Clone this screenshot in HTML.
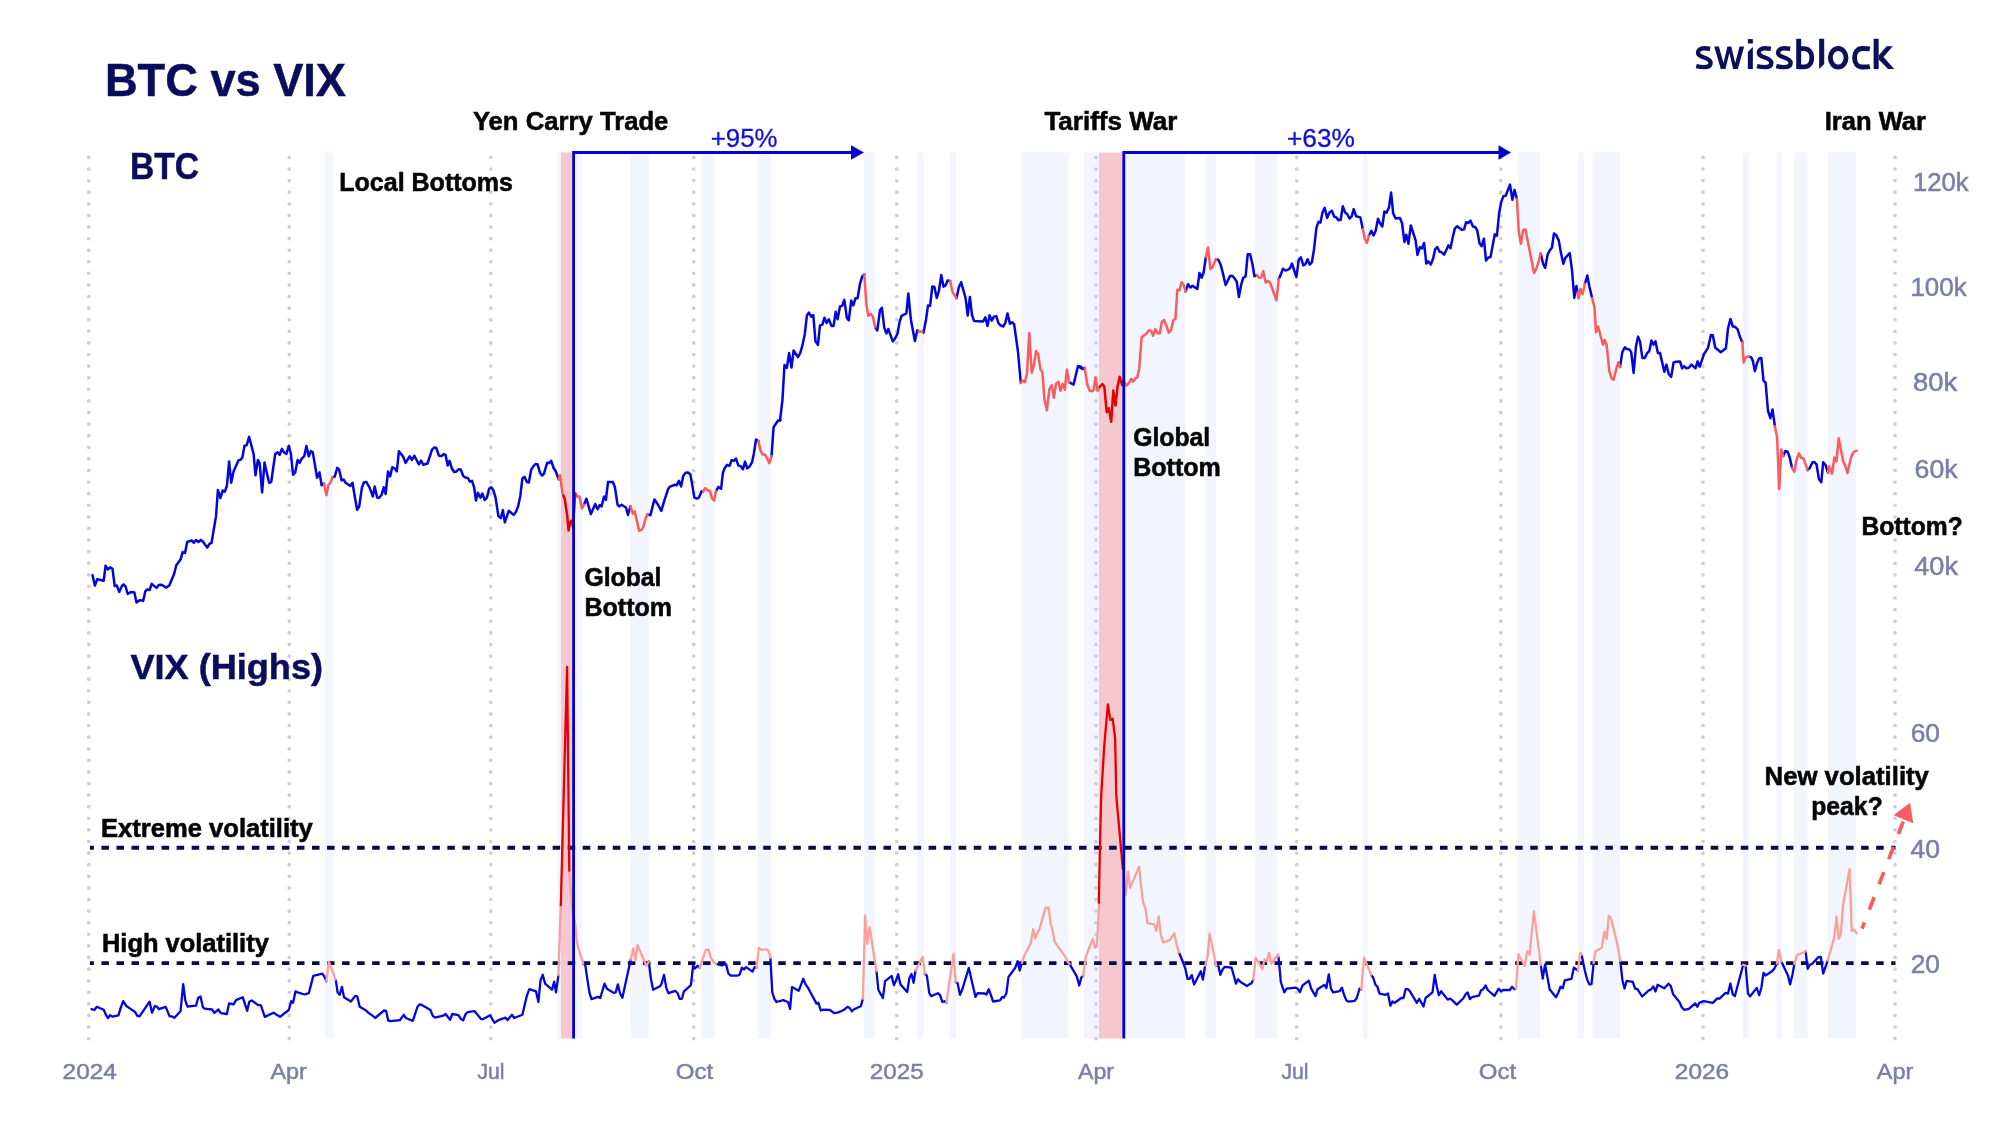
<!DOCTYPE html>
<html><head><meta charset="utf-8"><title>BTC vs VIX</title>
<style>
html,body{margin:0;padding:0;background:#fff;}
body{width:2000px;height:1125px;overflow:hidden;font-family:"Liberation Sans",sans-serif;}
svg{display:block;will-change:transform;}
text{font-family:"Liberation Sans",sans-serif;}
.ax{fill:#7a7fa6;font-size:25.5px;stroke:#7a7fa6;stroke-width:0.5px;}
.xa{fill:#7a7fa6;font-size:22.4px;stroke:#7a7fa6;stroke-width:0.5px;}
.lbl{fill:#050505;font-weight:bold;font-size:25px;stroke:#050505;stroke-width:0.55px;}
.navy{fill:#0a0d5c;font-weight:bold;stroke:#0a0d5c;stroke-width:0.5px;}
.pct{fill:#1010da;font-size:26.2px;stroke:#1010da;stroke-width:0.3px;}
</style></head><body>
<svg width="2000" height="1125" viewBox="0 0 2000 1125">
<rect width="2000" height="1125" fill="#ffffff"/>
<g fill="#f2f5fe">
<rect x="325" y="152.5" width="8.5" height="886.0"/>
<rect x="557.5" y="152.5" width="25.0" height="886.0"/>
<rect x="630.4" y="152.5" width="18.4" height="886.0"/>
<rect x="701.5" y="152.5" width="13.3" height="886.0"/>
<rect x="757.8" y="152.5" width="13.2" height="886.0"/>
<rect x="864" y="152.5" width="10.8" height="886.0"/>
<rect x="917.5" y="152.5" width="6.1" height="886.0"/>
<rect x="950.2" y="152.5" width="5.8" height="886.0"/>
<rect x="1021.5" y="152.5" width="47.3" height="886.0"/>
<rect x="1084" y="152.5" width="15.0" height="886.0"/>
<rect x="1123" y="152.5" width="62.0" height="886.0"/>
<rect x="1205.3" y="152.5" width="10.7" height="886.0"/>
<rect x="1255" y="152.5" width="22.3" height="886.0"/>
<rect x="1362.8" y="152.5" width="4.7" height="886.0"/>
<rect x="1517.8" y="152.5" width="22.0" height="886.0"/>
<rect x="1578" y="152.5" width="6.0" height="886.0"/>
<rect x="1592.6" y="152.5" width="27.4" height="886.0"/>
<rect x="1742.8" y="152.5" width="6.0" height="886.0"/>
<rect x="1776.6" y="152.5" width="5.6" height="886.0"/>
<rect x="1794" y="152.5" width="13.5" height="886.0"/>
<rect x="1827.8" y="152.5" width="28.2" height="886.0"/>
</g>
<g fill="#f5c7ce">
<rect x="561" y="152.5" width="12.0" height="886.0"/>
<rect x="1098.9" y="152.5" width="24.1" height="886.0"/>
</g>
<g stroke="#cdcdda" stroke-width="3.7" stroke-linecap="round" stroke-dasharray="0 11.595" fill="none">
<path d="M88.75 157.4V1041"/>
<path d="M289.25 157.4V1041"/>
<path d="M490.75 157.4V1041"/>
<path d="M693.75 157.4V1041"/>
<path d="M896.75 157.4V1041"/>
<path d="M1096 157.4V1041"/>
<path d="M1296.75 157.4V1041"/>
<path d="M1500.75 157.4V1041"/>
<path d="M1703 157.4V1041"/>
<path d="M1895 157.4V1041"/>
</g>
<g stroke="#0a0a46" stroke-width="3.9" stroke-dasharray="7.52 7.52" stroke-dashoffset="3.5" fill="none">
<path d="M89.9 847.8H1895.5"/><path d="M89.9 963.1H1895.5"/>
</g>
<g id="vix"><path d="M91.5,1009.2 94.4,1010.0 96.8,1006.8 103.7,1009.7 105.9,1014.8 108.0,1018.0 110.1,1015.1 112.5,1016.7 118.4,1015.3 120.8,1007.6 123.2,1001.2 126.4,1006.0 135.2,1012.1 137.3,1015.9 139.5,1016.4 149.6,1001.7 152.0,1012.7 154.9,1006.0 156.8,1006.5 158.9,1009.2 165.6,1006.8 169.6,1016.4 172.0,1016.4 174.4,1017.7 180.5,1011.3 183.2,984.1 185.3,1000.4 187.5,1006.5 196.0,1005.7 198.1,998.0 200.5,996.4 202.9,1007.3 204.8,1008.7 212.0,1009.5 214.4,1012.9 218.4,1009.5 220.8,1013.2 226.9,1014.0 229.1,1003.3 233.6,1004.4 236.0,1000.1 242.7,997.2 247.2,1010.8 249.3,1001.7 251.7,1000.4 258.4,1005.2 260.8,1005.2 264.8,1016.9 273.6,1012.7 280.0,1016.9 288.8,1010.0 291.2,1001.2 293.1,1002.8 295.5,991.3 297.6,992.4 304.5,994.5 308.8,993.2 313.3,975.9 322.4,973.7 324.5,976.9 326.4,981.2M335.7,979.6 337.6,992.4 339.7,994.8 341.9,986.8 344.0,997.2 350.9,1001.5 355.2,995.9 357.3,996.4 359.7,1006.8 366.1,1010.5 368.5,1012.9 372.8,1015.9 375.2,1018.0 384.0,1010.5 386.1,1010.8 388.0,1019.6M388.0,1019.6 388.0,1020.4 390.4,1021.2 400.0,1020.1 403.7,1014.8 405.9,1018.0 412.8,1020.9 417.6,1006.5 419.7,1004.4 421.9,1004.9 430.4,1010.0 432.8,1015.9 435.2,1017.7 444.0,1015.3 445.6,1014.0 450.1,1019.9 452.3,1014.0 458.4,1015.1 460.8,1018.8 463.2,1020.4 465.6,1014.0 467.7,1012.1 474.4,1011.1 481.1,1019.1 483.2,1019.1 490.1,1015.3 494.4,1022.8 498.4,1020.1 505.6,1017.7 507.5,1020.1 512.0,1014.8 514.1,1018.0 522.4,1014.8 526.9,995.6 529.3,989.2 536.0,991.3 538.4,1002.0 540.5,980.4 542.7,974.8 545.1,983.6 552.0,989.7 554.1,981.7 556.0,992.4 558.4,975.3M583.2,963.6 585.3,965.2 587.5,980.4 589.6,993.2 591.5,999.1 597.9,996.9 600.3,998.0 604.5,983.6 606.9,988.7 613.6,992.9 615.7,992.4 617.9,984.4 620.0,993.2 622.4,997.7 630.7,959.6M648.8,961.5 650.9,978.8 653.1,989.7 660.0,986.3 661.6,983.6 664.0,974.8 666.4,988.4 668.5,993.2 675.2,990.8 677.6,993.2 679.7,998.8 681.9,998.8M681.9,998.8 681.9,998.5 684.0,991.3 690.9,985.2 693.1,965.7 694.9,968.4 697.6,965.7 699.5,967.9M716.0,963.9 721.9,965.5 724.0,964.4 726.1,964.4 728.3,973.2 730.4,975.6 737.6,975.6 739.5,974.8 741.9,967.6 744.0,969.5 746.1,967.1 752.5,971.6 754.7,967.1 756.5,967.6M770.4,957.7 772.3,992.4 774.4,998.8 776.5,1002.0 783.2,1000.1 788.0,1002.0 790.1,1008.9 792.0,987.1 798.7,990.8 803.2,978.8 805.6,984.4 807.7,987.3 816.5,1003.6 818.4,1002.8 820.8,1010.5 823.2,1009.7 829.9,1010.0 834.1,1013.2 838.4,1012.4 843.2,1010.3 847.5,1006.8 849.6,1007.9 852.0,1011.3 854.1,1009.2 860.8,1006.3 862.9,998.8M876.5,971.1 878.4,990.0 882.9,998.0 885.1,981.2 891.7,975.9 893.9,985.2 896.0,980.4 898.1,974.3 900.5,984.4 907.2,992.1 909.3,978.3 911.5,974.0 913.6,982.8 915.5,970.5M924.8,973.7 926.9,975.9 929.3,993.2 931.2,996.1 937.9,993.2 940.0,995.1 942.4,1002.0 944.5,1001.2 946.4,1002.8M955.7,982.0 957.6,983.3 960.0,994.8 962.1,990.0 968.8,967.9 975.5,996.9 977.6,993.2 984.5,993.5M984.5,993.5 986.4,994.5 988.8,989.2 993.1,1001.5 1000.0,1000.4 1002.1,997.2 1004.0,997.5 1006.4,993.2 1008.5,976.9 1010.7,974.0 1015.2,967.9 1017.6,961.2 1019.7,970.5 1021.9,962.8M1069.6,964.1 1076.8,976.4 1079.2,985.5 1081.3,977.5 1083.2,975.6M1178.9,952.4 1181.1,957.7 1183.2,962.8 1185.3,968.4 1187.5,978.8 1189.6,978.8 1191.7,975.1 1194.1,984.4 1200.8,971.3 1202.9,979.6 1205.1,965.7M1216.3,965.7 1218.1,964.4 1220.3,974.8 1222.7,969.2 1224.8,966.8 1231.5,967.6 1233.6,974.8 1236.0,983.6 1238.1,979.3 1240.3,981.7 1246.9,986.0 1249.3,984.4 1251.5,983.3 1253.3,979.6M1278.4,956.4 1280.0,972.4 1280.8,982.0 1284.3,992.4 1286.7,988.7 1295.5,987.6 1297.6,988.7 1300.0,992.1 1302.4,985.7 1308.8,980.7 1311.2,988.7 1315.5,996.1 1317.6,989.2 1324.3,984.9 1326.4,988.1 1328.8,974.3 1330.9,988.4 1333.1,992.4 1339.7,991.1 1341.9,987.6 1344.0,994.8 1346.4,1000.4 1348.8,1001.7 1354.7,1000.9 1356.8,998.0 1359.5,988.7 1361.3,989.7M1371.2,974.8 1373.1,977.5 1375.5,984.9 1377.3,986.3 1379.5,993.7 1385.6,994.8 1388.0,993.5 1390.4,1005.7 1392.5,1001.5 1394.7,1002.8 1401.3,998.0 1403.5,998.0 1405.6,989.2 1408.0,989.2 1410.1,991.6 1416.8,1002.8 1419.2,998.8 1423.5,1006.5 1425.6,998.0 1432.5,992.4 1434.7,974.8 1436.8,986.8 1438.9,995.1 1441.1,991.3 1447.7,999.6 1450.1,998.5 1452.3,1000.4 1456.8,1004.7 1463.2,998.5 1465.6,994.3 1467.7,992.4 1469.9,999.1 1472.0,997.2 1478.9,995.6 1481.1,990.3 1483.2,989.2 1485.6,985.5 1487.7,990.0 1494.4,995.9 1496.5,992.4 1498.7,988.7 1501.1,991.3 1503.2,990.0 1509.9,990.0 1512.0,986.8 1514.4,989.2 1516.0,989.2M1540.8,965.2 1542.7,978.5 1545.1,964.4 1549.6,989.2 1556.0,997.2 1558.4,992.4 1560.5,986.8 1562.7,988.4 1564.8,980.4 1571.5,978.8 1573.9,967.6 1577.9,970.5M1581.6,954.8 1584.8,970.5 1587.2,979.6 1589.3,984.4 1591.5,984.1 1593.6,963.3M1620.3,960.8 1622.4,980.0 1624.5,988.5 1626.7,980.8 1632.8,981.9 1635.2,988.8 1637.3,988.8 1642.1,996.5 1648.8,990.4 1650.9,989.6 1653.3,986.4 1655.5,991.5 1657.6,984.8 1664.3,988.3 1668.5,983.7 1670.7,985.9 1673.1,994.1 1677.6,999.7 1679.5,1002.1 1681.9,1007.5 1684.3,1009.9 1688.8,1008.8 1695.2,1003.5 1697.3,1006.7 1699.2,1002.9 1703.7,1001.1 1712.8,1002.9 1717.3,998.4 1719.5,998.7 1725.6,992.8 1728.0,993.6 1730.4,983.5 1732.8,994.4 1734.9,996.0 1743.2,964.8M1745.6,965.6 1748.0,993.6 1750.1,996.3 1756.8,988.0 1759.2,995.2 1761.3,988.0 1763.5,972.8 1765.6,975.5 1772.0,971.2 1774.4,968.5 1776.8,963.7M1781.3,961.6 1788.0,975.5 1790.1,984.5 1792.5,974.4 1794.4,964.0M1805.6,951.5 1807.7,968.8 1809.9,964.8 1812.0,964.0 1818.4,957.1 1820.8,956.8 1823.2,973.6 1827.7,960.5" stroke="#0404dc" stroke-width="2.3" fill="none" stroke-linejoin="round" stroke-linecap="round"/>
<path d="M326.4,981.2 328.8,961.7 331.2,967.6 335.7,979.6M558.4,975.3 560.8,905.2M569.3,870.8 572.0,907.0 575.5,926.0 576.5,939.6 578.4,948.4 583.2,963.6M630.7,959.6 633.3,948.4 635.5,960.4 637.6,945.2 646.4,966.0 648.8,961.5M699.5,967.9 705.9,950.0 708.5,949.7 710.9,957.7 713.3,962.0 716.0,963.9M756.5,967.6 758.9,947.9 761.3,949.7 767.7,949.7 769.6,954.0 770.4,957.7M862.9,998.8 865.1,915.3 867.2,943.9 869.6,927.3 876.5,971.1M915.5,970.5 918.1,965.7 922.7,956.9 924.8,973.7M946.4,1002.8 953.6,953.7 955.7,982.0M1021.9,962.8 1024.0,956.4 1030.9,942.8 1033.1,929.2 1035.2,938.5 1037.6,932.7 1039.7,928.4 1045.6,907.6 1048.5,907.3 1050.9,925.2 1052.3,928.9 1054.7,941.7 1056.8,944.9 1065.6,957.2 1067.7,962.0 1069.6,964.1M1083.2,975.6 1085.6,958.0 1088.0,950.8 1092.8,939.1 1094.9,947.6 1096.8,946.5 1099.2,902.8M1122.8,868.8 1125.6,894.8 1127.8,872.0M1127.8,872.0 1128.0,871.6 1130.1,887.9 1139.2,866.5 1140.8,883.6 1143.2,902.8 1145.3,907.6 1147.5,923.1 1154.1,924.4 1156.3,930.8 1158.7,916.4 1160.8,934.8 1163.2,942.3 1169.9,940.1 1172.0,936.9 1174.4,933.5 1176.5,943.9 1178.9,952.4M1205.1,965.7 1207.5,957.2 1209.6,933.7 1216.3,965.7M1253.3,979.6 1255.7,957.7 1262.4,969.2 1264.5,959.3 1266.9,961.5 1269.1,952.7 1271.2,963.6 1277.9,954.3 1278.4,956.4M1361.3,989.7 1364.0,957.7 1371.2,974.8M1516.0,989.2 1518.4,954.3 1524.8,966.0 1527.2,951.3 1529.6,954.5 1533.9,911.3 1540.8,965.2M1577.9,970.5 1580.3,952.9 1581.6,954.8M1593.6,963.3 1593.6,963.2 1595.5,951.2 1601.9,947.7 1604.3,932.0 1606.7,938.9 1608.8,915.7 1611.2,918.9 1617.6,945.6 1620.3,960.8M1743.2,964.8 1745.6,965.6M1776.8,963.7 1778.9,949.9 1781.3,961.6M1794.4,964.0 1796.8,955.2 1805.6,951.5M1827.7,960.5 1834.4,937.1 1836.5,916.5 1838.7,938.7 1840.8,933.9 1843.2,904.0 1849.6,869.1 1851.7,930.9 1853.9,929.6 1856.5,933.1" stroke="#f9a09a" stroke-width="2.3" fill="none" stroke-linejoin="round" stroke-linecap="round"/>
<path d="M560.8,905.2 567.1,666.8 569.3,870.8M1099.2,902.8 1098.8,902.4 1100.0,843.6 1101.2,795.6 1104.3,745.2 1107.9,704.4 1110.3,720.0 1112.7,718.8 1115.1,738.0 1116.3,795.6 1118.0,814.8 1122.8,868.8" stroke="#e60000" stroke-width="2.3" fill="none" stroke-linejoin="round" stroke-linecap="round"/></g>
<g id="btc"><path d="M92.5,575.1 94.9,585.5 97.3,579.1 103.7,580.7 105.6,565.7 108.0,569.5 110.1,567.3 112.5,568.9 114.7,586.0 116.8,585.5 119.2,591.9 121.9,586.0 123.5,584.4 125.6,586.5 127.7,594.0 131.2,591.9 134.4,592.4 136.5,602.5 140.0,600.1 143.2,600.9 145.3,591.3 147.2,589.5 149.6,590.0 151.7,583.9 156.5,587.9 158.7,584.9 161.6,584.7 166.1,587.6 169.3,585.5 174.1,574.0 176.3,565.2 180.5,559.6 182.7,552.1 185.0,552.9 187.2,542.0 191.7,540.4 193.9,542.8 196.0,540.1 198.4,542.0 200.8,539.8 203.2,542.0 207.2,547.6 209.6,543.6 211.5,543.0 216.0,516.4 217.9,490.0 220.3,498.0 222.7,490.5 224.8,491.6 226.9,486.0 229.1,461.5 231.2,482.8 233.6,471.3 236.0,466.0 238.4,460.4 240.8,459.6 242.4,457.2 244.5,445.7 246.7,445.2 249.1,436.9 253.6,454.0 255.5,475.3 257.9,459.9 259.7,463.6 262.1,492.4 264.5,462.5 266.9,473.2 269.1,482.8 271.2,482.0 275.2,454.0 277.6,452.4 279.7,454.8 281.9,448.9 284.0,452.4 286.4,454.0 288.8,445.7 290.9,454.0 293.1,474.8 295.2,472.4 297.6,459.9 299.7,462.8 301.6,458.8 304.3,456.1 306.4,446.0 308.8,456.4 310.9,451.1 312.8,452.4 317.1,477.7 319.5,472.4 321.6,485.2 324.0,483.6M332.5,477.2 334.7,476.7 337.3,467.9 339.2,469.7 341.6,480.4 343.7,479.6 345.6,482.8 350.4,486.0 352.5,482.8 354.9,497.2 357.1,509.7 359.2,506.5 361.9,487.6 364.0,482.3 366.4,482.0 369.6,487.6 372.8,496.4 374.7,486.5 377.1,497.5 379.2,497.7 381.6,494.8 383.7,487.3 385.6,494.0 388.0,471.6 390.1,476.4 392.3,467.3 394.7,468.4 396.8,471.3 398.9,451.3M398.9,451.3 398.9,451.2 403.2,456.8 405.6,462.9 409.6,456.3 412.0,460.0 414.4,455.7 418.9,464.5 421.1,460.5 423.2,464.8 427.5,463.5 432.0,449.6 434.4,447.5 436.3,448.0 438.9,455.7 441.6,456.0 443.7,454.1 445.6,455.2 447.7,465.6 449.6,460.8 452.0,468.8 454.1,472.0 456.5,471.5 458.4,469.3 460.8,469.6 463.2,476.0 465.6,477.6 467.7,477.9 469.9,481.6 472.0,480.8 474.1,487.2 476.0,500.5 477.9,492.8 480.5,497.6 482.4,493.6 484.8,500.0 486.9,497.6 489.1,488.8 491.2,487.2 493.3,490.1 495.5,497.3 498.4,516.0 500.8,518.1 502.9,510.1 504.8,522.4 508.8,510.7 513.6,514.9 516.0,511.7 518.1,506.4 520.3,496.0 522.4,478.4 524.5,476.8 526.9,482.1 528.8,482.4 531.2,469.6 533.3,466.4 535.5,464.0 537.6,464.3 540.0,472.8 542.1,475.5 544.0,473.6 547.2,462.7 549.3,462.9 551.2,460.8 553.6,468.0 555.7,471.2 558.7,479.2M584.0,504.8 586.4,498.7 590.9,514.1 595.2,504.0 597.6,509.3 599.7,505.1 601.6,506.4 604.0,496.5 605.9,500.0 608.0,482.1 612.8,481.9 614.9,487.2 617.6,504.8 619.2,506.4 621.6,504.8 625.9,507.5 628.0,514.9 630.4,506.1M647.5,514.4 650.4,515.2 654.4,499.5 657.6,504.0 661.3,510.9 664.0,501.6 668.0,489.3 669.6,486.9 674.4,484.8 676.8,485.3 678.9,480.8 681.1,486.4M681.1,486.4 683.2,476.0 685.6,472.8 688.0,472.5 690.4,474.4 694.4,497.6 696.8,498.7 698.9,497.6 701.6,491.2 703.2,491.2M716.0,491.2 718.4,486.9 721.1,488.8 722.9,472.8 724.8,468.0 727.2,464.8 729.6,465.9 731.5,460.3 733.9,460.8 736.0,458.7 738.4,465.6 740.5,466.1 742.9,469.3 745.1,461.6 747.2,468.3 749.6,466.4 752.0,462.4 753.9,453.3 756.0,439.5 758.4,441.1M771.5,456.3 773.6,427.2 776.0,423.5 778.1,420.5 780.5,420.0M780.5,420.0 780.0,420.6 782.4,400.6 784.5,365.1 786.9,367.8 789.1,352.9 791.5,367.5 793.6,350.5 797.9,357.1 800.3,352.9 802.4,345.4 804.8,334.2 806.9,315.5 808.8,312.6 811.2,316.6 813.3,315.0 815.5,341.4 817.9,344.9 820.0,325.4 822.4,324.6 824.5,317.7 826.7,323.0 828.8,319.3 831.5,325.9 833.6,325.9 835.7,311.8 837.6,319.3 840.0,306.5 842.1,305.9 844.3,299.8 846.9,318.2 848.8,320.3 851.2,300.6 853.3,305.4 855.5,298.2 857.6,298.2 860.0,283.8 862.1,276.6 864.3,274.5M875.2,327.0 877.3,330.5 880.0,310.2 881.9,307.8 884.3,327.8 886.4,333.4 888.3,329.1 892.8,341.4 895.2,338.2 897.6,333.4 899.7,321.4 901.6,315.8 906.4,313.4 908.3,293.4 910.9,319.8 914.9,341.1 917.3,330.2 918.4,331.5M922.4,331.8 923.5,332.6 925.9,320.6 928.0,305.4 930.1,305.9 932.3,286.5 934.4,287.0 936.8,297.9 938.9,291.0 941.3,275.0 943.5,286.7 945.6,285.4 947.5,280.6 950.1,280.9M956.5,298.2 958.7,287.8 961.1,282.2 965.6,298.2 967.7,315.5 969.9,296.9 972.0,315.0 974.1,321.1 983.2,321.4 985.3,317.4 987.5,325.9 989.6,315.3 991.7,320.6 993.9,316.6 996.3,316.1 998.4,323.0 1000.5,325.4 1003.2,326.5 1005.3,323.0 1007.5,313.4 1009.9,323.8 1012.0,322.2 1014.1,324.1 1017.9,351.0 1020.8,383.0M1069.1,382.2 1073.6,384.6 1076.0,374.2 1078.1,365.9 1080.5,366.5 1082.9,368.9M1082.9,368.9 1080.0,367.4 1082.4,369.0 1084.8,367.9M1185.6,291.4 1188.0,284.2 1190.4,287.4 1192.5,285.8 1194.9,287.4 1197.3,289.0 1199.5,273.0 1201.6,277.8 1203.5,273.0 1205.9,257.0M1216.0,259.1 1218.4,259.9 1220.8,265.0 1223.2,274.6 1225.6,285.0 1230.1,275.9 1232.0,275.7 1234.4,278.1 1236.8,281.8 1238.9,297.0 1241.1,285.0 1243.2,277.8 1245.6,276.5 1247.7,254.3 1250.1,254.3 1252.5,264.2 1254.4,276.2 1256.8,275.1M1278.7,279.1 1280.8,274.6 1282.9,268.7 1285.3,270.6 1287.5,269.8 1289.6,268.7 1292.0,263.9M1292.0,263.9 1291.9,263.5 1296.4,277.1 1298.8,259.5 1300.9,257.4 1303.3,265.4 1305.5,264.1 1307.6,259.3 1309.7,264.6 1311.9,262.2 1314.0,249.4 1316.4,227.8 1318.5,221.9 1320.4,222.7 1322.5,212.6 1324.7,207.8 1327.1,217.9 1329.5,212.6 1331.9,210.7 1334.3,216.9 1336.4,217.4 1338.5,220.3 1340.7,219.8 1342.8,206.2 1345.2,212.6 1347.3,214.2 1349.5,218.5 1351.6,216.6 1353.7,209.1 1356.1,216.3 1360.4,217.4 1362.8,229.1M1368.9,235.8 1371.3,230.7 1373.5,235.5 1375.6,231.0 1378.0,218.7 1380.1,223.5 1382.3,226.5 1384.4,211.5 1386.5,212.6 1388.9,207.8 1391.1,192.6 1393.2,213.4 1395.6,218.5 1399.9,217.9 1402.0,223.0 1404.4,241.9 1406.3,234.7 1408.4,243.8 1410.8,225.4 1415.6,240.3 1417.5,255.0 1419.9,247.0 1422.0,248.6 1424.1,243.0 1426.3,263.5 1428.4,261.4 1430.8,264.6 1433.2,258.2 1435.1,249.4 1437.2,247.0 1439.6,251.8 1441.7,252.3 1444.1,254.7 1448.4,245.4 1450.5,248.3 1452.4,238.7 1454.8,228.6 1457.2,226.2 1462.0,229.9 1464.1,229.4 1466.0,222.2 1468.1,223.0 1470.5,220.6 1472.9,226.5 1475.1,227.0 1477.2,230.2 1479.6,243.5 1481.7,246.2 1483.9,238.7 1486.0,260.6 1488.4,257.4 1490.5,257.1 1494.8,234.2 1496.9,235.8 1499.1,213.4 1501.2,202.2 1503.3,196.3 1505.7,195.8 1510.0,184.6 1512.4,199.8 1514.5,189.9 1516.9,199.0M1540.7,253.4 1543.1,263.8 1545.2,267.8 1547.6,254.7 1549.7,250.5 1551.9,247.8 1554.0,233.4 1556.4,235.5 1558.8,240.6 1560.9,252.6 1563.3,263.8 1565.2,258.2 1569.7,253.1 1571.9,269.1 1574.3,297.9 1576.4,285.9 1577.5,292.6M1584.9,283.8 1587.3,275.5 1589.5,287.0 1592.1,297.9M1620.0,367.0 1622.4,351.8 1624.8,347.3 1626.9,349.1 1629.3,349.4 1631.2,352.1 1633.6,372.9 1636.0,346.2 1638.1,336.6 1640.0,341.4 1642.4,357.9 1644.8,357.9 1647.2,353.1 1649.3,351.0 1651.5,340.6 1653.6,344.6 1655.5,341.4 1657.9,352.9 1660.0,352.9 1664.3,371.8 1666.4,364.6 1668.8,374.2 1671.2,376.9 1673.6,362.5 1676.0,361.7 1680.0,361.4 1682.1,368.3 1684.0,366.2 1686.4,368.3 1688.8,367.8 1691.5,364.6 1695.5,368.3 1697.6,361.4 1699.7,366.7 1704.0,354.2 1708.0,347.8 1710.9,335.0 1712.8,335.3 1715.2,347.5 1720.8,352.3 1725.9,348.3 1728.0,328.6 1730.4,319.0 1732.8,326.5 1734.9,326.7 1737.6,329.4 1740.0,336.9 1742.4,342.5M1748.8,356.6 1751.2,357.4 1752.8,360.6 1754.9,371.3 1757.1,363.0 1759.2,358.2 1761.3,357.9 1763.5,380.6 1765.6,382.7 1768.0,411.0 1770.4,418.2 1772.5,409.4 1774.9,426.2M1783.2,456.1 1785.3,451.0 1787.7,451.8 1789.9,458.2 1792.0,467.8M1807.7,470.2 1809.9,467.8 1812.5,462.2 1814.4,462.2 1816.5,464.3 1818.9,479.0 1821.3,482.2 1823.2,462.2 1825.6,465.1 1828.0,472.6" stroke="#0404dc" stroke-width="2.5" fill="none" stroke-linejoin="round" stroke-linecap="round"/>
<path d="M324.0,483.6 326.4,495.3 328.3,485.2 330.4,482.8 332.5,477.2M558.7,479.2 560.0,475.2 562.4,492.8 563.5,495.7M575.2,493.6 577.6,496.8 579.5,496.5 581.9,508.5 584.0,504.8M630.4,506.1 632.8,513.6 634.7,511.2 639.2,530.9 641.6,529.9 643.2,527.2 645.6,518.4 647.5,514.4M703.2,491.2 705.3,488.0 707.5,490.4 709.9,490.7 712.0,498.4 714.1,500.5 716.0,491.2M758.4,441.1 760.5,450.4 762.4,454.4 764.8,454.4 767.2,458.4 769.3,463.2 771.5,456.3M864.3,274.5 866.4,304.6 868.3,315.8 870.7,313.9 872.8,316.6 875.2,327.0M918.4,331.5 922.4,331.8M950.1,280.9 952.5,291.8 955.2,296.3 956.5,298.2M1020.8,383.0 1022.4,380.6 1024.8,382.2 1026.9,374.2 1029.3,332.9 1031.7,372.6 1033.9,365.4 1036.0,351.0 1038.1,353.9 1040.5,369.4 1042.4,372.3 1044.5,399.8 1046.9,410.2 1049.3,389.4 1051.7,385.4 1053.9,397.7 1056.0,383.8 1058.4,381.7 1060.5,390.7 1062.7,383.8 1064.8,389.7 1066.9,369.4 1069.1,382.2M1084.8,367.9 1087.2,384.2 1089.6,390.6 1092.0,391.4 1093.6,389.8 1095.5,377.5 1097.6,390.9 1100.0,386.6M1123.5,381.0 1126.4,385.5 1128.8,383.4 1131.2,378.9 1133.3,381.5 1135.2,378.6 1137.3,377.5 1139.2,368.7 1141.6,337.5 1144.0,335.4 1146.4,333.8 1148.8,330.3 1151.2,330.9 1153.1,335.7 1155.2,329.3 1157.6,333.0 1159.7,333.5 1161.9,321.8 1164.0,319.9 1166.4,325.8 1168.8,332.7 1170.9,330.6 1173.3,320.2 1175.5,318.9 1177.3,289.8 1179.5,290.3 1181.6,282.1 1183.7,285.0 1185.6,291.4M1205.9,257.0 1208.0,247.4 1210.4,269.0 1212.8,266.6 1216.0,259.1M1256.8,275.1 1258.9,277.8 1261.3,277.5 1263.2,271.1 1265.6,282.6 1268.0,281.0 1269.9,282.3 1276.5,300.2 1278.7,279.1M1362.8,229.1 1364.9,239.0 1366.8,243.0 1368.9,235.8M1516.9,199.0 1518.8,231.8 1520.9,243.8 1523.1,229.9 1525.5,229.4 1534.0,272.9 1536.4,268.6 1538.5,262.2 1540.7,253.4M1577.5,292.6 1578.5,298.5 1580.4,288.9 1582.5,294.2 1584.9,283.8M1592.1,297.9 1594.5,307.8M1594.5,307.8 1596.0,332.3 1598.1,326.5 1602.9,344.6 1604.8,339.8 1606.7,345.4 1609.3,371.0 1611.5,378.2 1613.6,379.8 1616.0,370.2 1618.4,362.2 1620.0,367.0M1742.4,342.5 1743.7,362.7 1745.6,357.4 1748.8,356.6M1774.9,426.2 1777.1,437.4 1779.2,489.1 1781.3,449.4 1783.2,456.1M1792.0,467.8 1794.4,471.8 1796.8,459.0 1798.9,453.4 1801.3,457.9 1803.2,457.9 1807.7,470.2M1828.0,472.6 1829.1,466.2 1832.0,473.7 1834.4,457.4 1836.5,461.4 1838.7,438.2 1843.2,461.4 1845.1,465.4 1847.5,473.1 1849.6,463.5 1851.7,455.5 1853.9,451.8 1856.8,450.7" stroke="#fa5c5c" stroke-width="2.5" fill="none" stroke-linejoin="round" stroke-linecap="round"/>
<path d="M563.5,495.7 564.8,499.2 567.2,515.2 568.5,530.4 570.1,522.4 571.2,520.8 572.8,526.4 574.1,510.4 575.2,493.6M1100.0,386.6 1102.4,384.2 1104.3,386.6 1106.7,412.2 1108.8,408.2 1111.2,421.8 1113.3,390.6 1115.5,405.5 1117.6,386.6 1119.7,376.7 1122.1,385.0 1123.5,381.0" stroke="#e60000" stroke-width="2.5" fill="none" stroke-linejoin="round" stroke-linecap="round"/></g>
<g stroke="#0000d2" stroke-width="2.8" fill="none" stroke-linejoin="miter">
<path d="M573.6 1038.5V152.5H852"/>
<path d="M1123.8 1038.5V152.5H1499"/>
</g>
<g fill="#0000d2"><path d="M851 145.2L864 152.5L851 159.8Z"/><path d="M1498.5 145.2L1511 152.5L1498.5 159.8Z"/></g>
<path d="M1862 928.7L1904 819.5" stroke="#f85c5c" stroke-width="3.7" stroke-dasharray="13.2 13.8" stroke-dashoffset="6.5" fill="none"/>
<path d="M1893.7 815.3L1913.3 823.3L1910 802.7Z" fill="#f85c5c"/>
<text x="105" y="96" class="navy" textLength="241" lengthAdjust="spacingAndGlyphs" font-size="46.5">BTC vs VIX</text>
<g id="logo" fill="#0c1058" stroke="none">
<g transform="translate(1690,30) scale(0.055)">
<path d="M440,300H525L610,600L680,300H750L822,600L900,300H985L870,710H785L715,420L645,710H560Z"/>
<rect x="1052" y="165" width="91" height="80"/>
<path d="M1052,400L1143,310V710H1052Z"/>
</g>
<g transform="translate(1692,40) scale(0.030211)" fill="none" stroke="#0c1058" stroke-width="146">
<path d="M600,291C540,282 470,272 400,272C280,272 200,330 200,420C200,510 290,545 400,580C520,618 615,660 615,762C615,855 530,898 400,898C310,898 215,884 140,866"/>
<path transform="translate(2011,0)" d="M600,291C540,282 470,272 400,272C280,272 200,330 200,420C200,510 290,545 400,580C520,618 615,660 615,762C615,855 530,898 400,898C310,898 215,884 140,866"/><path transform="translate(2650,0)" d="M600,291C540,282 470,272 400,272C280,272 200,330 200,420C200,510 290,545 400,580C520,618 615,660 615,762C615,855 530,898 400,898C310,898 215,884 140,866"/>
</g>
<g transform="translate(1790,30) scale(0.055)">
<rect x="113" y="160" width="90" height="550"/>
<path d="M160,338H250C340,338 396,400 396,505C396,610 340,672 250,672H160" fill="none" stroke="#0c1058" stroke-width="86"/>
<path d="M530,160H622V620L530,710Z"/>
<ellipse cx="876" cy="505" rx="143" ry="168" fill="none" stroke="#0c1058" stroke-width="88"/>
<path d="M1452,344C1405,336 1360,337 1316,337C1225,337 1174,405 1174,505C1174,605 1225,673 1316,673C1360,673 1405,674 1452,666" fill="none" stroke="#0c1058" stroke-width="88"/>
<rect x="1520" y="160" width="92" height="550"/>
<path d="M1612,465L1757,295H1868L1700,492L1895,710H1783L1612,535Z"/>
</g>
</g>
<text x="472.9" y="130.2" class="lbl" textLength="195.5" lengthAdjust="spacingAndGlyphs">Yen Carry Trade</text>
<text x="1044.4" y="130" class="lbl" textLength="133" lengthAdjust="spacingAndGlyphs">Tariffs War</text>
<text x="1824.7" y="130" class="lbl" textLength="101.3" lengthAdjust="spacingAndGlyphs">Iran War</text>
<text x="710.75" y="147" class="pct" textLength="66.75" lengthAdjust="spacingAndGlyphs">+95%</text>
<text x="1287" y="146.8" class="pct" textLength="68" lengthAdjust="spacingAndGlyphs">+63%</text>
<text x="130" y="178.8" class="navy" textLength="69" lengthAdjust="spacingAndGlyphs" font-size="36">BTC</text>
<text x="339.25" y="191.25" class="lbl" textLength="173.75" lengthAdjust="spacingAndGlyphs">Local Bottoms</text>
<text x="584.5" y="586" class="lbl" textLength="77" lengthAdjust="spacingAndGlyphs">Global</text>
<text x="584.5" y="616.2" class="lbl" textLength="87.5" lengthAdjust="spacingAndGlyphs">Bottom</text>
<text x="1133.2" y="446" class="lbl" textLength="77" lengthAdjust="spacingAndGlyphs">Global</text>
<text x="1133.2" y="476" class="lbl" textLength="87.6" lengthAdjust="spacingAndGlyphs">Bottom</text>
<text x="1861.5" y="534.8" class="lbl" textLength="101.2" lengthAdjust="spacingAndGlyphs">Bottom?</text>
<text x="130.4" y="678.6" class="navy" textLength="192.6" lengthAdjust="spacingAndGlyphs" font-size="35.5">VIX (Highs)</text>
<text x="101" y="837.4" class="lbl" textLength="211.8" lengthAdjust="spacingAndGlyphs">Extreme volatility</text>
<text x="102" y="952.4" class="lbl" textLength="166.8" lengthAdjust="spacingAndGlyphs">High volatility</text>
<text x="1846.75" y="785" class="lbl" text-anchor="middle" textLength="164.3" lengthAdjust="spacingAndGlyphs">New volatility</text>
<text x="1847" y="815.1" class="lbl" text-anchor="middle" textLength="71.5" lengthAdjust="spacingAndGlyphs">peak?</text>
<text x="1913.1" y="191.3" class="ax" textLength="55.6" lengthAdjust="spacingAndGlyphs">120k</text>
<text x="1910.4" y="296.3" class="ax" textLength="56.3" lengthAdjust="spacingAndGlyphs">100k</text>
<text x="1913" y="390.7" class="ax" textLength="44.2" lengthAdjust="spacingAndGlyphs">80k</text>
<text x="1914.6" y="478" class="ax" textLength="43.0" lengthAdjust="spacingAndGlyphs">60k</text>
<text x="1914.2" y="574.7" class="ax" textLength="43.8" lengthAdjust="spacingAndGlyphs">40k</text>
<text x="1910.7" y="741.8" class="ax" textLength="29.3" lengthAdjust="spacingAndGlyphs">60</text>
<text x="1910.5" y="857.6" class="ax" textLength="29.6" lengthAdjust="spacingAndGlyphs">40</text>
<text x="1910.7" y="973" class="ax" textLength="29.3" lengthAdjust="spacingAndGlyphs">20</text>
<text x="62.6" y="1078.7" class="xa" textLength="54.3" lengthAdjust="spacingAndGlyphs">2024</text>
<text x="270.5" y="1078.7" class="xa" textLength="36.4" lengthAdjust="spacingAndGlyphs">Apr</text>
<text x="477.5" y="1078.7" class="xa" textLength="27" lengthAdjust="spacingAndGlyphs">Jul</text>
<text x="675.65" y="1078.7" class="xa" textLength="37.5" lengthAdjust="spacingAndGlyphs">Oct</text>
<text x="869.8" y="1078.7" class="xa" textLength="53.9" lengthAdjust="spacingAndGlyphs">2025</text>
<text x="1077.95" y="1078.7" class="xa" textLength="36.1" lengthAdjust="spacingAndGlyphs">Apr</text>
<text x="1281.4" y="1078.7" class="xa" textLength="27.2" lengthAdjust="spacingAndGlyphs">Jul</text>
<text x="1478.8" y="1078.7" class="xa" textLength="37.4" lengthAdjust="spacingAndGlyphs">Oct</text>
<text x="1674.85" y="1078.7" class="xa" textLength="54.3" lengthAdjust="spacingAndGlyphs">2026</text>
<text x="1876.8" y="1078.7" class="xa" textLength="36.4" lengthAdjust="spacingAndGlyphs">Apr</text>
</svg></body></html>
